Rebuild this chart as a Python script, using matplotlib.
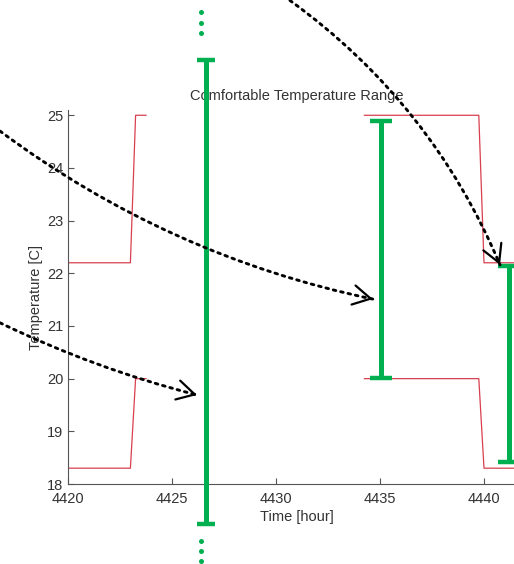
import matplotlib
matplotlib.use("Agg")
import matplotlib.pyplot as plt
import numpy as np

plt.rcParams['font.family'] = ['Liberation Sans', 'DejaVu Sans']

# comfort band (upper / lower bound), NaN = gap
time_h = [4420, 4423.0, 4423.25, 4423.75, np.nan, 4434.25, 4439.75, 4440.0, 4443]
upper_c = [22.2, 22.2, 25, 25, np.nan, 25, 25, 22.2, 22.2]
lower_c = [18.3, 18.3, 20, 20, np.nan, 20, 20, 18.3, 18.3]

# green range markers
bar_x = [4426.63, 4435.05, 4441.2]
bar_top = [26.05, 24.89, 22.14]
bar_bottom = [17.24, 20.02, 18.42]
bar_cap = [6.2, 7.8, 7.8]

# "continues" dots above / below the first marker
dots_x = [4426.4, 4426.4, 4426.4, 4426.4, 4426.4, 4426.4]
dots_y = [26.96, 26.76, 26.56, 16.92, 16.73, 16.53]

# dotted arrows: start, tip, curvature
arrow_start = [(4416.73, 24.70), (4416.73, 21.06), (4430.67, 27.18)]
arrow_tip = [(4434.66, 21.51), (4426.2, 19.69), (4440.77, 22.16)]
arrow_rad = [0.11, 0.05, -0.14]

green = '#00b050'
red = '#d8404f'
grey = '#333333'

fig = plt.figure(figsize=(5.14, 5.64), dpi=100)
ax = fig.add_axes([68 / 514, 80 / 564, 457.6 / 514, 374 / 564])

ax.plot(time_h, upper_c, color=red, lw=0.9)
ax.plot(time_h, lower_c, color=red, lw=0.9)

ax.set_xlim(4420, 4442)
ax.set_ylim(18, 25.1)
ax.set_xticks([4420, 4425, 4430, 4435, 4440])
ax.set_yticks(range(18, 26))

for pos in ['top', 'right']:
    ax.spines[pos].set_visible(False)
for pos in ['left', 'bottom']:
    ax.spines[pos].set_color('#555555')
ax.tick_params(direction='in', length=4, color='#555555', labelcolor=grey, labelsize=10.5)
ax.tick_params(axis='x', pad=6)

ax.set_title('Comfortable Temperature Range', fontsize=10.5, color=grey, pad=7)
ax.set_xlabel('Time [hour]', fontsize=10.5, color=grey, labelpad=3)
ax.set_ylabel('Temperature [C]', fontsize=10.5, color=grey, labelpad=3)

for x, top, bot, cap in zip(bar_x, bar_top, bar_bottom, bar_cap):
    mid = (top + bot) / 2
    half = (top - bot) / 2
    eb = ax.errorbar([x], [mid], yerr=[[half], [half]], fmt='none', ecolor=green,
                     elinewidth=3.6, capsize=cap, capthick=3.2, zorder=5)
    for part in eb.get_children():
        part.set_clip_on(False)

ax.plot(dots_x, dots_y, 'o', color=green, ms=3.6, mec='none', clip_on=False)

# dotted curves with solid open heads
for start, tip, rad in zip(arrow_start, arrow_tip, arrow_rad):
    ax.annotate('', xy=tip, xytext=start, annotation_clip=False,
                arrowprops=dict(arrowstyle='-', connectionstyle='arc3,rad=%s' % rad,
                                color='black', lw=2.1, linestyle=(0, (0.9, 1.7)),
                                shrinkA=0, shrinkB=0), zorder=6)
    p0 = ax.transData.transform(start)
    p2 = ax.transData.transform(tip)
    d = p2 - p0
    ctrl = (p0 + p2) / 2 + rad * np.array([d[1], -d[0]])
    direc = (p2 - ctrl) / np.linalg.norm(p2 - ctrl)
    back = ax.transData.inverted().transform(p2 - direc * 3)
    ax.annotate('', xy=tip, xytext=back, annotation_clip=False,
                arrowprops=dict(arrowstyle='->,head_length=1.26,head_width=0.7',
                                color='black', lw=1.6, shrinkA=0, shrinkB=0), zorder=6)

fig.savefig('out.png', dpi=100)
